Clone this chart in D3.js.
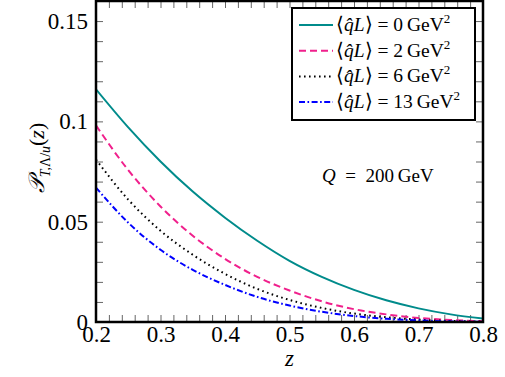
<!DOCTYPE html>
<html>
<head>
<meta charset="utf-8">
<script src="https://cdn.jsdelivr.net/npm/d3@7"></script>
<style>
  body { margin: 0; background: #fff; }
  svg { display: block; }
  .tick line { stroke: #666; stroke-width: 1; }
</style>
</head>
<body>
<svg id="chart" width="505" height="377"></svg>
<script>
// z values and curves
const zVals = [0.2, 0.25, 0.3, 0.35, 0.4, 0.45, 0.5, 0.55, 0.6, 0.65, 0.7, 0.75, 0.8]
const qL0 = [0.116, 0.097, 0.080, 0.065, 0.052, 0.0405, 0.0305, 0.0225, 0.016, 0.0108, 0.0068, 0.0038, 0.0017]
const qL2 = [0.098, 0.0757, 0.0576, 0.043, 0.0315, 0.0225, 0.0157, 0.0103, 0.0064, 0.0038, 0.002, 0.001, 0.0004]
const qL6 = [0.081, 0.061, 0.0455, 0.0335, 0.024, 0.0165, 0.011, 0.007, 0.0042, 0.0024, 0.0012, 0.0005, 0.0002]
const qL13 = [0.067, 0.0495, 0.036, 0.026, 0.0185, 0.0125, 0.0082, 0.0051, 0.003, 0.0016, 0.0008, 0.0003, 0.0001]
const seriesLabels = ['0', '2', '6', '13']
const xTicks = [0.2, 0.3, 0.4, 0.5, 0.6, 0.7, 0.8]
const yTicks = [0, 0.05, 0.1, 0.15]

const serif = "'Liberation Serif', 'Times New Roman', serif"

const series = [
  {vals: qL0, label: seriesLabels[0], color: '#008b8b', dash: null},
  {vals: qL2, label: seriesLabels[1], color: '#f0208c', dash: '7,4'},
  {vals: qL6, label: seriesLabels[2], color: '#000000', dash: '1.6,3.4'},
  {vals: qL13, label: seriesLabels[3], color: '#0000ff', dash: '6,2.5,1.6,2.5'}
]

const svg = d3.select('#chart')
const m = {left: 96, right: 483, top: 1, bottom: 322}

const x = d3.scaleLinear().domain([0.2, 0.8]).range([m.left, m.right])
const y = d3.scaleLinear().domain([0, 0.16]).range([m.bottom, m.top])

const xMinor = d3.range(0.2, 0.8001, 0.02)
const yMinor = d3.range(0, 0.1601, 0.01)

// ticks on all four sides, pointing inward
svg.append('g').attr('transform', `translate(0,${m.bottom})`)
  .call(d3.axisBottom(x).tickValues(xMinor).tickSize(-7).tickFormat(''))
svg.append('g').attr('transform', `translate(0,${m.top})`)
  .call(d3.axisTop(x).tickValues(xMinor).tickSize(-7).tickFormat(''))
svg.append('g').attr('transform', `translate(${m.left},0)`)
  .call(d3.axisLeft(y).tickValues(yMinor).tickSize(-7).tickFormat(''))
svg.append('g').attr('transform', `translate(${m.right},0)`)
  .call(d3.axisRight(y).tickValues(yMinor).tickSize(-7).tickFormat(''))

// tick labels
const xa = svg.append('g').attr('transform', `translate(0,${m.bottom})`)
  .call(d3.axisBottom(x).tickValues(xTicks).tickSize(0).tickPadding(4).tickFormat(d3.format('.1f')))
const ya = svg.append('g').attr('transform', `translate(${m.left},0)`)
  .call(d3.axisLeft(y).tickValues(yTicks).tickSize(0).tickPadding(8).tickFormat(d => d === 0 ? '0' : String(+d.toFixed(2))))
svg.selectAll('.domain').remove()
xa.attr('font-family', null).attr('font-size', null)
ya.attr('font-family', null).attr('font-size', null)
xa.selectAll('text').style('font-size', '23px').style('font-family', serif)
ya.selectAll('text').style('font-size', '23px').style('font-family', serif)

svg.append('clipPath').attr('id', 'clip')
  .append('rect').attr('x', m.left).attr('y', m.top)
  .attr('width', m.right - m.left).attr('height', m.bottom - m.top)

const line = d3.line()
  .x((d, i) => x(zVals[i]))
  .y(d => y(d))
  .curve(d3.curveMonotoneX)

svg.append('g').attr('clip-path', 'url(#clip)')
  .selectAll('path')
  .data(series)
  .join('path')
  .attr('d', d => line(d.vals))
  .attr('fill', 'none')
  .attr('stroke', d => d.color)
  .attr('stroke-width', 2)
  .attr('stroke-dasharray', d => d.dash)

// frame
svg.append('rect')
  .attr('x', m.left).attr('y', m.top)
  .attr('width', m.right - m.left).attr('height', m.bottom - m.top)
  .attr('fill', 'none').attr('stroke', '#000').attr('stroke-width', 2.5)

// legend
const lg = svg.append('g')
lg.append('rect')
  .attr('x', 292).attr('y', 8).attr('width', 183).attr('height', 112)
  .attr('fill', '#fff').attr('stroke', '#000').attr('stroke-width', 2)
series.forEach((s, i) => {
  const cy = 25 + i * 25.7
  lg.append('line')
    .attr('x1', 299).attr('x2', 333).attr('y1', cy).attr('y2', cy)
    .attr('stroke', s.color).attr('stroke-width', 2)
    .attr('stroke-dasharray', s.dash)
  const t = lg.append('text').attr('x', 336).attr('y', cy + 6)
    .style('font-size', '19.5px').style('font-family', serif)
  t.append('tspan').text('\u27E8')
  t.append('tspan').style('font-style', 'italic').text('q\u0302L')
  t.append('tspan').text('\u27E9 = ' + s.label + '\u2009GeV')
  t.append('tspan').attr('dy', -8).style('font-size', '13px').text('2')
})

// annotation
const q = svg.append('text').attr('x', 322).attr('y', 182)
  .style('font-size', '19px').style('font-family', serif)
q.append('tspan').style('font-style', 'italic').text('Q')
q.append('tspan').text('\u2002=\u2002200\u2009GeV')

// axis titles
svg.append('text')
  .attr('x', (m.left + m.right) / 2).attr('y', 366)
  .attr('text-anchor', 'middle')
  .style('font-size', '23px').style('font-style', 'italic').style('font-family', serif)
  .text('z')

const yl = svg.append('text')
  .attr('transform', 'translate(44,158) rotate(-90)')
  .attr('text-anchor', 'middle')
  .style('font-size', '22px').style('font-family', serif)
yl.append('tspan').style('font-style', 'italic').text('\uD835\uDCAB')
yl.append('tspan').attr('dy', 6).style('font-size', '14px').style('font-style', 'italic').text('T,')
yl.append('tspan').style('font-size', '14px').text('\u039B/')
yl.append('tspan').style('font-size', '14px').style('font-style', 'italic').text('u')
yl.append('tspan').attr('dy', -6).text('(')
yl.append('tspan').style('font-style', 'italic').text('z')
yl.append('tspan').text(')')
</script>
</body>
</html>
